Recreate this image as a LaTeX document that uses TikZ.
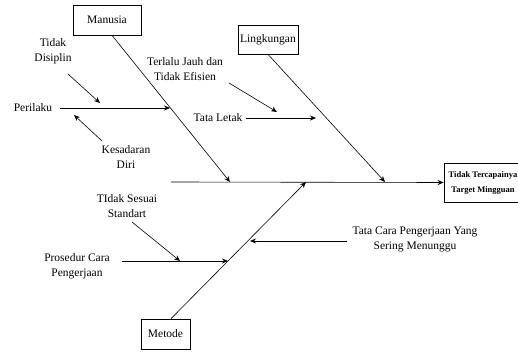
\documentclass[tikz,border=0pt]{standalone}
\usepackage{fontspec}
\setmainfont{Liberation Serif}
\usetikzlibrary{arrows.meta}
\tikzset{x=1pt, y=-1pt,
    catbox/.style={draw, line width=0.7pt, inner sep=0pt, font=\fontsize{11.5}{14}\selectfont},
    effectbox/.style={draw, line width=0.7pt, inner sep=0pt, align=center,
        font=\fontsize{8.5}{15}\selectfont\bfseries},
    cause/.style={align=center, inner sep=1pt, font=\fontsize{11.5}{15}\selectfont},
    bone/.style={line width=0.6pt, -{Stealth[length=6pt,width=5pt]}},
    }
\begin{document}
\begin{tikzpicture}
\useasboundingbox (0,0) rectangle (518,352);
% main categories
\node[catbox, minimum width=68pt, minimum height=30pt] (manusia) at (107,20) {Manusia};
\node[catbox, minimum width=60pt, minimum height=29pt] (lingkungan) at (268,39.5) {Lingkungan};
\node[catbox, minimum width=49pt, minimum height=30pt] (metode) at (165.5,334) {Metode};
\node[effectbox, minimum width=78pt, minimum height=39pt] (effect) at (483,182.5) {Tidak Tercapainya\\Target Mingguan};
% spine
\coordinate (tail) at (171,182);
\coordinate (manusia end) at (230,182);
\coordinate (lingkungan end) at (385,182);
\coordinate (metode end) at (306,182);
\draw[bone] (tail) -- (effect.west);
\draw[bone] ([xshift=5pt]manusia.south) -- (manusia end);
\draw[bone] (lingkungan.south) -- (lingkungan end);
\draw[bone] ([xshift=5.5pt]metode.north) -- (metode end);
% Manusia
\node[cause] (perilaku) at (33,108) {Perilaku};
\node[cause] (disiplin) at (53,51) {Tidak\\Disiplin};
\node[cause] (kesadaran) at (126,157) {Kesadaran\\Diri};
\coordinate (perilaku end) at (170,108);
\coordinate (disiplin end) at (100,103);
\coordinate (kesadaran end) at (74,115);
\draw[bone] ([xshift=7pt]perilaku.east) -- (perilaku end);
\draw[bone] (68,74) -- (disiplin end);
\draw[bone] (102,141) -- (kesadaran end);
% Lingkungan
\node[cause] (tataletak) at (218,118) {Tata Letak};
\node[cause] (jauh) at (185,69.5) {Terlalu Jauh dan\\Tidak Efisien};
\coordinate (tataletak end) at (316,118);
\coordinate (jauh end) at (277,112);
\draw[bone] ([xshift=2pt]tataletak.east) -- (tataletak end);
\draw[bone] (229,83) -- (jauh end);
% Metode
\node[cause] (prosedur) at (77,266) {Prosedur Cara\\Pengerjaan};
\node[cause] (standart) at (127,206) {TIdak Sesuai\\Standart};
\node[cause] (tatacara) at (415,239) {Tata Cara Pengerjaan Yang\\Sering Menunggu};
\coordinate (prosedur end) at (228,261);
\coordinate (standart end) at (180,261);
\coordinate (tatacara end) at (250,241);
\draw[bone] (122,261) -- (prosedur end);
\draw[bone] (132,222) -- (standart end);
\draw[bone] (347,241) -- (tatacara end);
\end{tikzpicture}
\end{document}
